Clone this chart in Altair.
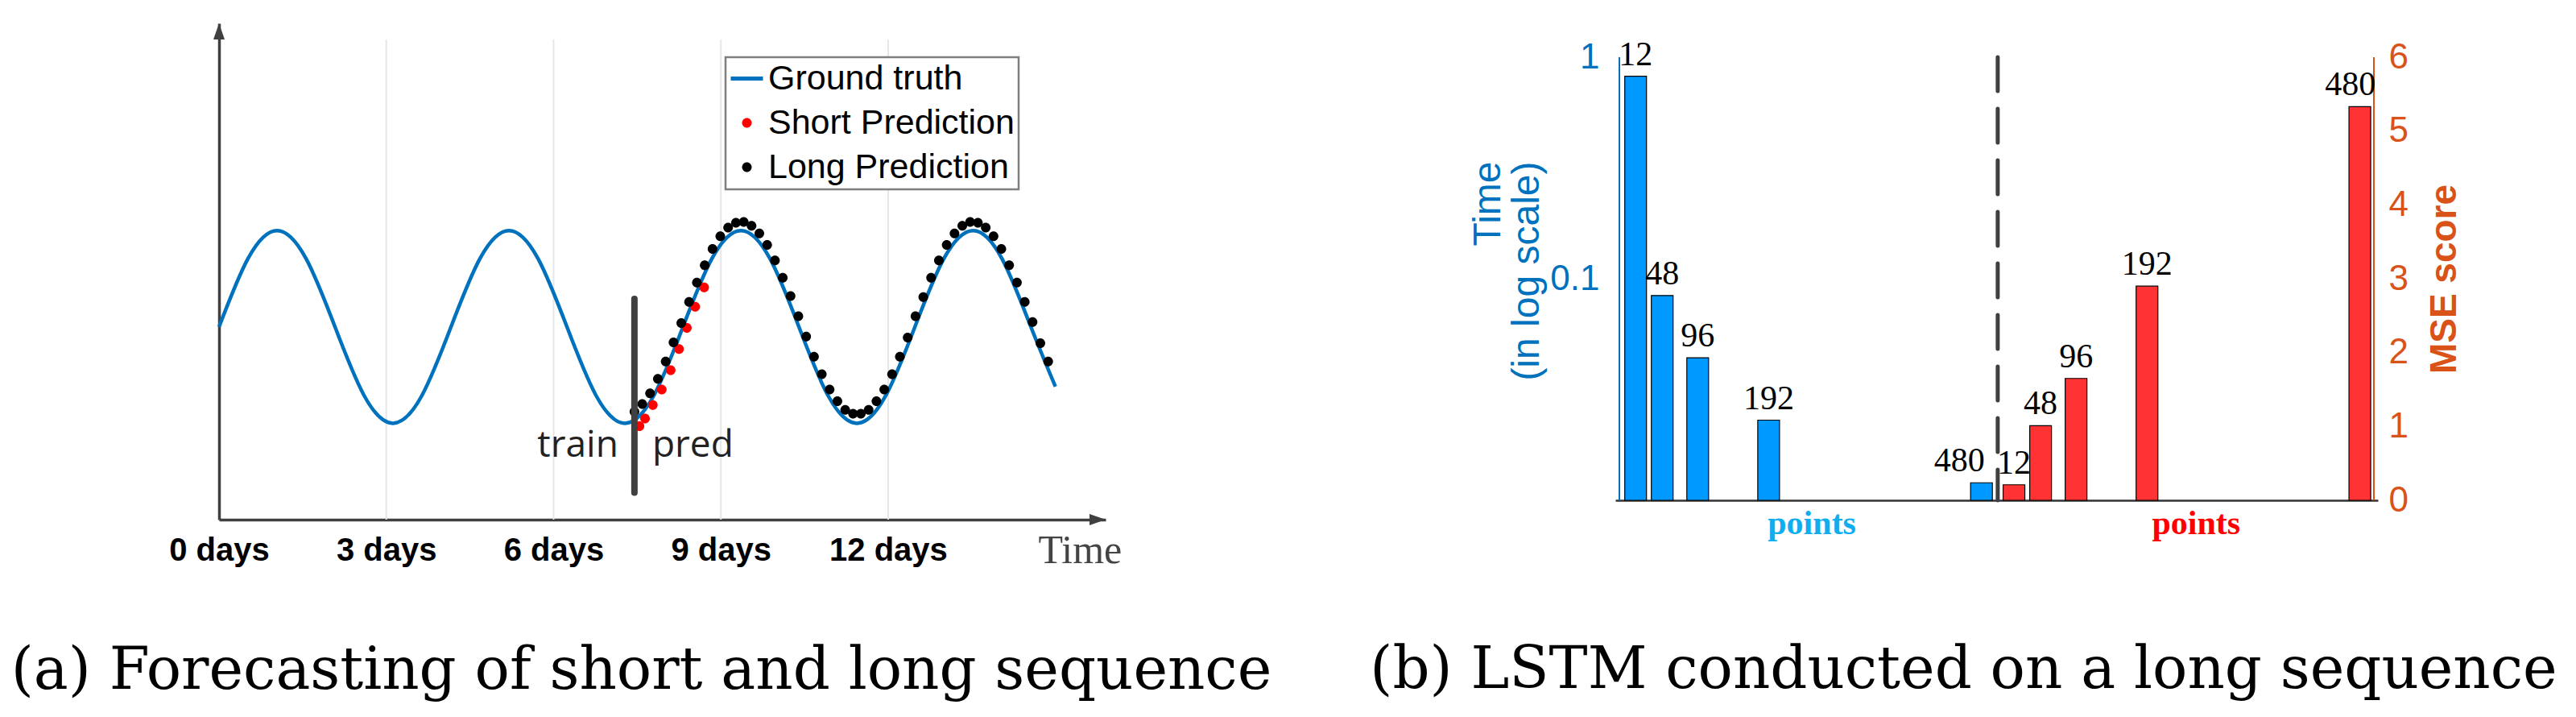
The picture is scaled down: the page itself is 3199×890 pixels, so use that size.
import altair as alt
import pandas as pd

# ---------------- data: panel (a) ----------------
truth_days = [0.00, 0.52, 1.04, 1.56, 2.08, 2.60, 3.12, 3.64, 4.16, 4.68, 5.20, 5.72,
              6.24, 6.76, 7.28, 7.80, 8.32, 8.84, 9.36, 9.88, 10.40, 10.92, 11.44,
              11.96, 12.48, 13.00, 13.52, 14.04, 14.56, 15.00]
truth_value = [0.00, 0.71, 1.00, 0.71, 0.00, -0.71, -1.00, -0.71, 0.00, 0.71, 1.00, 0.71,
               0.00, -0.71, -1.00, -0.71, 0.00, 0.71, 1.00, 0.71, 0.00, -0.71, -1.00,
               -0.71, 0.00, 0.71, 1.00, 0.71, 0.00, -0.62]
short_days = [7.54, 7.64, 7.78, 7.94, 8.10, 8.25, 8.39, 8.54, 8.70]
short_value = [-1.03, -0.95, -0.81, -0.65, -0.45, -0.23, -0.01, 0.21, 0.41]
long_days = [7.45, 7.59, 7.73, 7.87, 8.01, 8.15, 8.29, 8.43, 8.57, 8.71,
             8.85, 8.99, 9.13, 9.27, 9.41, 9.55, 9.69, 9.83, 9.97, 10.11,
             10.25, 10.39, 10.53, 10.67, 10.81, 10.95, 11.09, 11.23, 11.37, 11.51,
             11.65, 11.79, 11.93, 12.07, 12.21, 12.35, 12.49, 12.63, 12.77, 12.91,
             13.05, 13.19, 13.33, 13.47, 13.61, 13.75, 13.89, 14.03, 14.17, 14.31,
             14.45, 14.59, 14.73, 14.87]
long_value = [-0.88, -0.80, -0.69, -0.54, -0.36, -0.16, 0.04, 0.26, 0.46, 0.64,
              0.81, 0.94, 1.03, 1.08, 1.09, 1.05, 0.97, 0.85, 0.69, 0.51,
              0.32, 0.11, -0.10, -0.31, -0.49, -0.65, -0.77, -0.86, -0.90, -0.90,
              -0.86, -0.77, -0.65, -0.49, -0.31, -0.11, 0.11, 0.31, 0.51, 0.69,
              0.85, 0.97, 1.05, 1.09, 1.08, 1.03, 0.94, 0.81, 0.64, 0.46,
              0.26, 0.05, -0.17, -0.36]
day_ticks = [0, 3, 6, 9, 12]
series_names = ["Ground truth", "Short Prediction", "Long Prediction"]
train_split_day = 7.45
split_marker_range = [-1.72, 0.29]
annotation_words = ["train", "pred"]
annotation_level = -1.35

# ---------------- data: panel (b) ----------------
seq_lengths = [12, 48, 96, 192, 480]
time_log = [0.82, 0.084, 0.044, 0.023, 0.012]
mse_score = [0.21, 1.01, 1.65, 2.90, 5.33]
time_ticks = [0.1, 1]
mse_ticks = [0, 1, 2, 3, 4, 5, 6]
group_label = "points"

# ---------------- styles ----------------
SANS = "Liberation Sans"
SERIF = "Liberation Serif"
CAPTION_FONT = "DejaVu Serif"
AXC = "#404040"
BLUE_LINE = "#0072BD"
ORANGE = "#D95319"
LINE_PATH = "M-1,-0.12L1,-0.12L1,0.12L-1,0.12Z"
DOT_PATH = "M0.3,0A0.3,0.3,0,1,1,-0.3,0A0.3,0.3,0,1,1,0.3,0Z"
ARROW_UP = "M0,0L-0.35,1L0.35,1Z"
ARROW_RIGHT = "M0,0L-1,-0.35L-1,0.35Z"
LABEL_NUDGE_BLUE = [0, 0, 0, 0, -30]   # text nudges (x units) to keep labels apart
LABEL_NUDGE_RED = [0, 0, 0, 0, -13]

# ================= panel (a) =================
W_A, H_A = 1101, 616
XMAX_A, YMIN_A, YMAX_A, GRID_TOP = 15.9, -2.0, 3.15, 2.98
xs_a = alt.Scale(domain=[0, XMAX_A], nice=False, zero=False)
ys_a = alt.Scale(domain=[YMIN_A, YMAX_A], nice=False, zero=False)

truth_df = pd.DataFrame({"day": truth_days, "value": truth_value})
pred_df = pd.DataFrame({
    "day": short_days + long_days,
    "value": short_value + long_value,
    "series": [series_names[1]] * len(short_days) + [series_names[2]] * len(long_days),
})
grid_df = pd.DataFrame({"day": day_ticks[1:]})

x_axis_a = alt.Axis(values=day_ticks, labelExpr="datum.value + ' days'", labelFont=SANS,
                    labelFontWeight="bold", labelFontSize=40, labelColor="black",
                    labelPadding=18, labelFlush=False, labelOverlap=False, ticks=False,
                    grid=False, domainColor=AXC, domainWidth=3.5,
                    title="Time", titleFont=SERIF, titleFontWeight="normal", titleFontSize=50,
                    titleColor="#444444", titleAlign="left", titleBaseline="alphabetic",
                    titleX=1017, titleY=53)
y_axis_a = alt.Axis(labels=False, ticks=False, grid=False, title=None,
                    domainColor=AXC, domainWidth=3.5)
XA = dict(scale=xs_a, axis=x_axis_a)
YA = dict(scale=ys_a, axis=y_axis_a)

grid = alt.Chart(grid_df).mark_rule(color="#e6e6e6", strokeWidth=2).encode(
    x=alt.X("day:Q", **XA),
    y=alt.datum(YMIN_A, **YA),
    y2=alt.datum(GRID_TOP),
)
truth = alt.Chart(truth_df).mark_line(color=BLUE_LINE, strokeWidth=4.5, interpolate="natural").encode(
    x=alt.X("day:Q", **XA),
    y=alt.Y("value:Q", **YA),
)
leg = alt.Legend(title=None, orient="none", legendX=629, legendY=42, direction="vertical",
                 symbolSize=1600, symbolStrokeWidth=0, symbolOpacity=1,
                 labelFont=SANS, labelFontSize=43, labelColor="black", labelOffset=5,
                 labelLimit=0, rowPadding=11, padding=5, strokeColor="#7f7f7f",
                 fillColor="white")
preds = alt.Chart(pred_df).mark_point(filled=True, size=1600, opacity=1, strokeWidth=0).encode(
    x=alt.X("day:Q", **XA),
    y=alt.Y("value:Q", **YA),
    color=alt.Color("series:N", scale=alt.Scale(domain=series_names,
                                                 range=[BLUE_LINE, "#FF0000", "#000000"]),
                    legend=leg),
    shape=alt.Shape("series:N", scale=alt.Scale(domain=series_names,
                                                 range=[LINE_PATH, DOT_PATH, DOT_PATH]),
                    legend=leg),
)
split = alt.Chart(pd.DataFrame({"day": [train_split_day]})).mark_rule(
    color=AXC, strokeWidth=8, strokeCap="round").encode(
    x=alt.X("day:Q", **XA),
    y=alt.datum(split_marker_range[0], **YA),
    y2=alt.datum(split_marker_range[1]),
)
ann_df = pd.DataFrame({"day": [train_split_day], "value": [annotation_level]})
train_txt = alt.Chart(ann_df).mark_text(text=annotation_words[0], align="right", dx=-20,
                                        baseline="alphabetic", font="Open Sans", fontSize=46,
                                        color="#222222").encode(
    x=alt.X("day:Q", **XA), y=alt.Y("value:Q", **YA))
pred_txt = alt.Chart(ann_df).mark_text(text=annotation_words[1], align="left", dx=22,
                                       baseline="alphabetic", font="Open Sans", fontSize=46,
                                       color="#222222").encode(
    x=alt.X("day:Q", **XA), y=alt.Y("value:Q", **YA))
arrow_y = alt.Chart(pd.DataFrame({"day": [0], "value": [YMAX_A]})).mark_point(
    shape=ARROW_UP, size=1600, filled=True, color=AXC, opacity=1, strokeWidth=0).encode(
    x=alt.X("day:Q", **XA), y=alt.Y("value:Q", **YA))
arrow_x = alt.Chart(pd.DataFrame({"day": [XMAX_A], "value": [YMIN_A]})).mark_point(
    shape=ARROW_RIGHT, size=1600, filled=True, color=AXC, opacity=1, strokeWidth=0).encode(
    x=alt.X("day:Q", **XA), y=alt.Y("value:Q", **YA))

left = alt.layer(grid, truth, preds, split, train_txt, pred_txt, arrow_y, arrow_x).properties(
    width=W_A, height=H_A,
    title=alt.TitleParams("(a) Forecasting of short and long sequence", orient="bottom",
                          anchor="middle", font=CAPTION_FONT, fontSize=72, fontWeight="normal",
                          color="black", baseline="alphabetic", offset=147, dx=-26),
)

# ================= panel (b) =================
W_B, H_PLOT_B, TOP_EXT = 947, 550, 42
H_B = H_PLOT_B + TOP_EXT
GROUP_SHIFT = 512
XDOM_B = [-10, 1011]
SEP = (seq_lengths[-1] + seq_lengths[0] + GROUP_SHIFT) / 2
POINTS_POS = [250, 770]
TIME_DOM = [0.01, 1]
MSE_DOM = [0, 6]

xs_b = alt.Scale(domain=XDOM_B, nice=False, zero=False)
ys_time = alt.Scale(type="log", nice=False,
                    domain=[TIME_DOM[0], TIME_DOM[1] * 10 ** (2 * TOP_EXT / H_PLOT_B)])
ys_mse = alt.Scale(domain=[MSE_DOM[0], MSE_DOM[1] * H_B / H_PLOT_B], nice=False, zero=True)

labels = [str(s) for s in seq_lengths]
blue_df = pd.DataFrame({"pos": seq_lengths, "val": time_log, "lab": labels,
                        "lx": [s + n for s, n in zip(seq_lengths, LABEL_NUDGE_BLUE)]})
red_pos = [s + GROUP_SHIFT for s in seq_lengths]
red_df = pd.DataFrame({"pos": red_pos, "val": mse_score, "lab": labels,
                       "lx": [s + n for s, n in zip(red_pos, LABEL_NUDGE_RED)]})

x_axis_b = alt.Axis(values=POINTS_POS, labelExpr="'" + group_label + "'",
                    labelColor={"condition": {"test": "datum.value < 500", "value": "#0FAEEF"},
                                "value": "#FF0000"},
                    labelFont=SERIF, labelFontWeight="bold", labelFontSize=42, labelPadding=8,
                    labelFlush=False, labelOverlap=False, ticks=False, grid=False,
                    domainColor="#333333", domainWidth=2.5, title=None)
y_axis_time = alt.Axis(orient="left", values=time_ticks, format="~g", labelFont=SANS,
                       labelFontSize=44, labelColor=BLUE_LINE, labelPadding=20, ticks=False,
                       grid=False, domain=False,
                       title=["Time", "(in log scale)"], titleFont=SANS, titleFontSize=48,
                       titleFontWeight="normal", titleColor=BLUE_LINE, titleAngle=270,
                       titleAlign="right", titleBaseline="bottom", titleX=-134, titleY=171,
                       titleLineHeight=48)
y_axis_mse = alt.Axis(orient="right", values=mse_ticks, labelFont=SANS, labelFontSize=44,
                      labelColor=ORANGE, labelPadding=13, ticks=False, grid=False,
                      domain=False, title="MSE score", titleFont=SANS,
                      titleFontSize=46, titleFontWeight="bold", titleColor=ORANGE,
                      titleAngle=270, titleAlign="center", titleBaseline="middle",
                      titleX=82, titleY=TOP_EXT + H_PLOT_B / 2)
XB = dict(scale=xs_b, axis=x_axis_b)
YT = dict(scale=ys_time, axis=y_axis_time)
YM = dict(scale=ys_mse, axis=y_axis_mse)

blue_bars = alt.Chart(blue_df).mark_bar(size=27, color="#0099FF", stroke="black", strokeWidth=1.2).encode(
    x=alt.X("pos:Q", **XB),
    y=alt.Y("val:Q", stack=None, **YT),
    y2=alt.datum(TIME_DOM[0]),
)
blue_text = alt.Chart(blue_df).mark_text(font=SERIF, fontSize=42, baseline="bottom", dy=-5,
                                         color="black").encode(
    x=alt.X("lx:Q", **XB),
    y=alt.Y("val:Q", stack=None, **YT),
    text="lab:N",
)
sep_rule = alt.Chart(pd.DataFrame({"pos": [SEP]})).mark_rule(
    color=AXC, strokeWidth=5, strokeDash=[42, 22], strokeCap="round").encode(
    x=alt.X("pos:Q", **XB),
    y=alt.datum(TIME_DOM[1], **YT),
    y2=alt.datum(TIME_DOM[0]),
)
left_axis_line = alt.Chart(pd.DataFrame({"pos": [XDOM_B[0]]})).mark_rule(
    color=BLUE_LINE, strokeWidth=2).encode(
    x=alt.X("pos:Q", **XB),
    y=alt.datum(TIME_DOM[1], **YT),
    y2=alt.datum(TIME_DOM[0]),
)
red_bars = alt.Chart(red_df).mark_bar(size=27, color="#FF3333", stroke="black", strokeWidth=1.2).encode(
    x=alt.X("pos:Q", **XB),
    y=alt.Y("val:Q", stack=None, **YM),
    y2=alt.datum(MSE_DOM[0]),
)
red_text = alt.Chart(red_df).mark_text(font=SERIF, fontSize=42, baseline="bottom", dy=-5,
                                       color="black").encode(
    x=alt.X("lx:Q", **XB),
    y=alt.Y("val:Q", stack=None, **YM),
    text="lab:N",
)
right_axis_line = alt.Chart(pd.DataFrame({"pos": [XDOM_B[1]]})).mark_rule(
    color=ORANGE, strokeWidth=2).encode(
    x=alt.X("pos:Q", **XB),
    y=alt.datum(MSE_DOM[1], **YM),
    y2=alt.datum(MSE_DOM[0]),
)

blue_group = alt.layer(left_axis_line, blue_bars, blue_text, sep_rule)
red_group = alt.layer(right_axis_line, red_bars, red_text)
right = alt.layer(blue_group, red_group).resolve_scale(y="independent").resolve_axis(
    y="independent").properties(
    width=W_B, height=H_B,
    title=alt.TitleParams("(b) LSTM conducted on a long sequence", orient="bottom",
                          anchor="middle", font=CAPTION_FONT, fontSize=72, fontWeight="normal",
                          color="black", baseline="alphabetic", offset=184, dx=-41),
)

chart = alt.hconcat(left, right, spacing=121).properties(
    padding={"left": 5, "top": 21, "right": 5, "bottom": 5},
    background="white",
).configure_view(stroke=None).configure_legend(strokeWidth=2.5)

chart.save("out.html", embed_options={"renderer": "svg", "actions": False})
